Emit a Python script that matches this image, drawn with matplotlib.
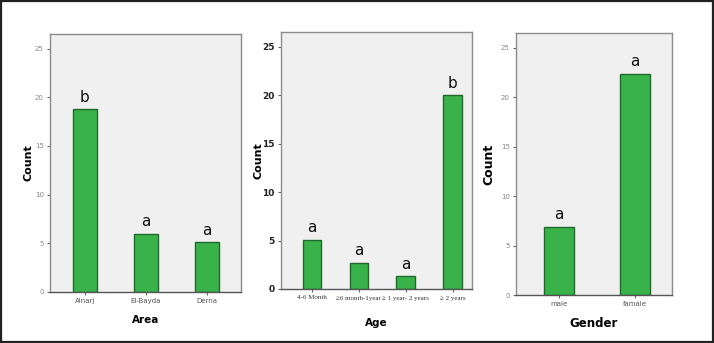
import matplotlib
matplotlib.use("Agg")
import matplotlib.pyplot as plt
from matplotlib.patches import Rectangle

# counts per group, with the significance letters put over each bar
area_names = ["Alnarj", "El-Bayda", "Derna"]
area_counts = [18.8, 6.0, 5.1]
area_letters = ["b", "a", "a"]

age_names = ["4-6 Month", "\u22656 month-1year", "\u2265 1 year- 2 years", "\u2265 2 years"]
age_counts = [5.1, 2.7, 1.3, 20.0]
age_letters = ["a", "a", "a", "b"]

gender_names = ["male", "famale"]
gender_counts = [6.9, 22.4]
gender_letters = ["a", "a"]

W, H = 714, 343
BAR = "#38b249"
EDGE = "#1f6a2b"
PANEL = "#f0f0f0"


def px_axes(fig, left, top, right, bottom):
    return fig.add_axes([left / W, (H - bottom) / H, (right - left) / W, (bottom - top) / H])


def bar_panel(ax, names, counts, letters, xlabel, xlim, bold_y=False, serif_x=False):
    x = range(len(names))
    ax.bar(x, counts, width=0.4, color=BAR, edgecolor=EDGE, linewidth=1.0, zorder=2)
    for i, (c, s) in enumerate(zip(counts, letters)):
        ax.text(i, c + 0.45, s, ha="center", va="bottom", fontsize=11, color="#111")
    ax.set_facecolor(PANEL)
    ax.set_xlim(*xlim)
    ax.set_ylim(0, 26.5)
    ax.set_yticks([0, 5, 10, 15, 20, 25])
    ax.set_xticks(list(x))
    if serif_x:
        ax.set_xticklabels(names, fontsize=5, family="Liberation Serif", color="#333")
    else:
        ax.set_xticklabels(names, fontsize=5, color="#555")
    if bold_y:
        for t in ax.get_yticklabels():
            t.set_fontsize(6.5)
            t.set_fontweight("bold")
            t.set_color("#222")
    else:
        for t in ax.get_yticklabels():
            t.set_fontsize(5)
            t.set_color("#888")
    ax.tick_params(length=2.5, width=0.8, color="#666", pad=2)
    for sp in ax.spines.values():
        sp.set_color("#8c8c8c")
        sp.set_linewidth(1.0)
    ax.spines["bottom"].set_color("#555")
    ax.set_ylabel("Count", fontsize=8, fontweight="bold")
    ax.set_xlabel(xlabel, fontsize=7.5, fontweight="bold")


fig = plt.figure(figsize=(W / 100, H / 100), dpi=100)
fig.patch.set_facecolor("white")

ax1 = px_axes(fig, 50, 34, 241, 292)
bar_panel(ax1, area_names, area_counts, area_letters, "Area", (-0.57, 2.56))
ax1.yaxis.set_label_coords(-0.089, 0.5)
ax1.xaxis.set_label_coords(0.5, -0.089)

ax2 = px_axes(fig, 281, 32, 472, 289)
bar_panel(ax2, age_names, age_counts, age_letters, "Age", (-0.66, 3.41),
          bold_y=True, serif_x=True)
ax2.yaxis.set_label_coords(-0.094, 0.5)
ax2.xaxis.set_label_coords(0.5, -0.113)

ax3 = px_axes(fig, 516, 33, 672, 295)
bar_panel(ax3, gender_names, gender_counts, gender_letters, "Gender", (-0.57, 1.49))
ax3.set_ylabel("Count", fontsize=9, fontweight="bold")
ax3.set_xlabel("Gender", fontsize=8.5, fontweight="bold")
ax3.yaxis.set_label_coords(-0.135, 0.5)
ax3.xaxis.set_label_coords(0.5, -0.084)

# dark frame round the whole figure
fig.add_artist(Rectangle((0.002, 0.003), 0.996, 0.994, transform=fig.transFigure,
                         fill=False, edgecolor="#222", linewidth=1.6))

fig.savefig("out.png", dpi=100)
